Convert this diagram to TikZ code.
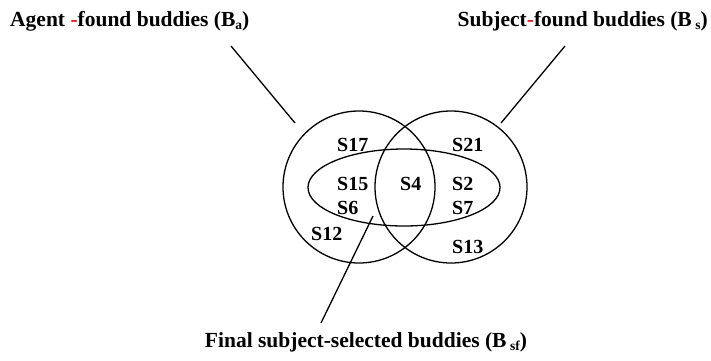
\documentclass[tikz,border=0pt]{standalone}
\usepackage{fontspec}
\setmainfont{Liberation Serif}
\usetikzlibrary{shapes.geometric}
\definecolor{dashred}{RGB}{220,30,30}
\newcommand{\lowsub}[1]{\raisebox{-0.35ex}{\fontsize{13.5}{14}\selectfont #1}}
\tikzset{
  setline/.style={line width=1.3pt, draw=black},
  setcircle/.style={setline, circle, minimum size=152pt, inner sep=0pt},
  setoval/.style={setline, ellipse, minimum width=192pt, minimum height=77pt, inner sep=0pt},
  heading/.style={font=\fontsize{21.5}{23}\selectfont\bfseries, inner sep=0pt, anchor=west},
  member/.style={font=\fontsize{20}{21}\selectfont\bfseries, inner sep=0pt, anchor=west},
  pointer/.style={line width=1.3pt},
}
\begin{document}
\begin{tikzpicture}[x=1pt,y=-1pt]
\useasboundingbox (0,0) rectangle (711,360);

% the two buddy sets and the selected subset
\node[setcircle] (agent) at (359,187) {};
\node[setcircle] (subject) at (451,187) {};
\node[setoval] (final) at (404,187.5) {};

% headings
\node[heading] (hagent) at (10,21) {Agent \textcolor{dashred}{-}found buddies (B\lowsub{a})};
\node[heading, anchor=east] (hsubject) at (708,21) {Subject\textcolor{dashred}{-}found buddies (B\,\lowsub{s})};
\node[heading, anchor=center] (hfinal) at (366,342) {Final subject-selected buddies (B\,\lowsub{sf})};

% members
\node[member] (s17) at (337,145) {S17};
\node[member] (s21) at (452,145) {S21};
\node[member] (s15) at (337,184) {S15};
\node[member] (s4)  at (400,184) {S4};
\node[member] (s2)  at (452,184) {S2};
\node[member] (s6)  at (337,208) {S6};
\node[member] (s7)  at (452,208) {S7};
\node[member] (s12) at (311,234) {S12};
\node[member] (s13) at (452,247) {S13};

% pointer lines
\coordinate (pa1) at (231,46);
\coordinate (pa2) at (295,123);
\coordinate (ps1) at (565,46);
\coordinate (ps2) at (501,123);
\coordinate (pf1) at (373,216);
\coordinate (pf2) at (321,323);
\draw[pointer] (pa1) -- (pa2);
\draw[pointer] (ps1) -- (ps2);
\draw[pointer] (pf1) -- (pf2);
\end{tikzpicture}
\end{document}
